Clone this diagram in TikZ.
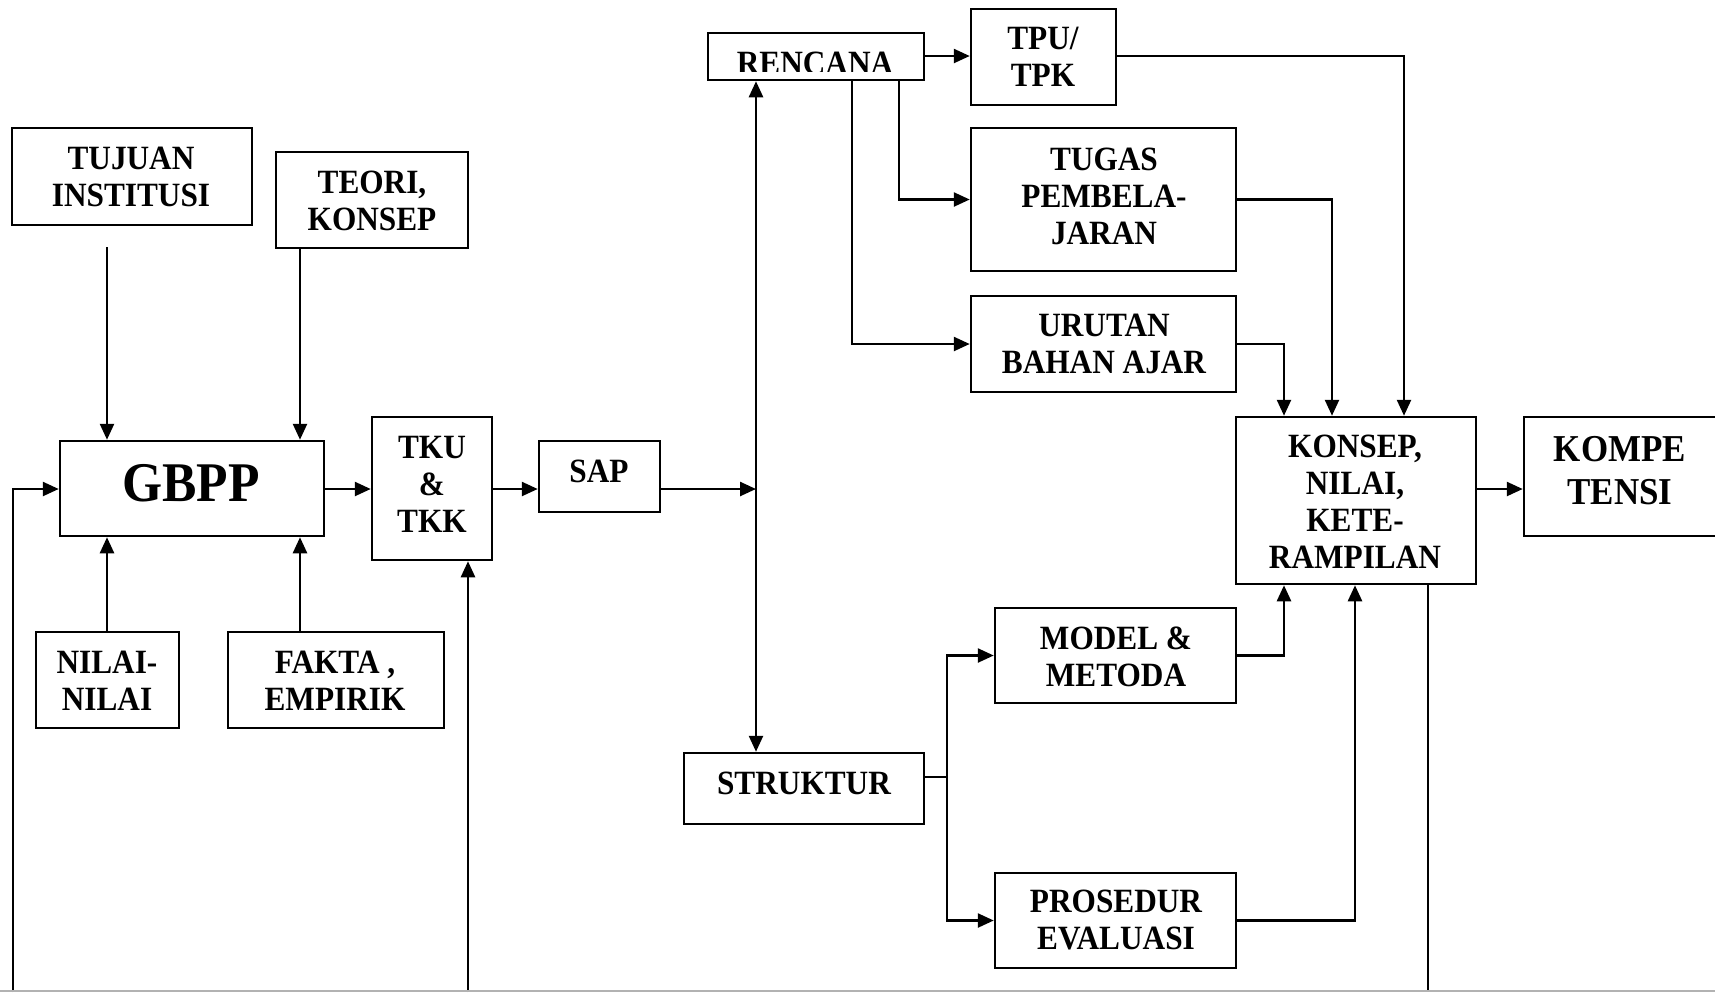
\documentclass[tikz,border=0pt]{standalone}
\usepackage{fontspec}
\setmainfont{Liberation Serif}[FakeStretch=0.92]
\usetikzlibrary{arrows.meta,fit}
\begin{document}
\begin{tikzpicture}[x=0.5pt,y=-0.5pt,
  box/.style={draw, line width=1.25pt, inner sep=0pt, fit={#1}},
  txt/.style={font=\fontsize{17}{18.5}\selectfont\bfseries, align=center, inner sep=0pt},
  ln/.style={line width=1.25pt},
  arr/.style={line width=1.25pt, -{Triangle[length=8pt,width=7pt]}},
  darr/.style={line width=1.25pt, {Triangle[length=8pt,width=7pt]}-{Triangle[length=8pt,width=7pt]}}]
\useasboundingbox (0,0) rectangle (1715,992);
\clip (0,0) rectangle (1715,992);
% boxes
\node[box={(12,128) (252,225)}] (tujuan) {};
\node[box={(276,152) (468,248)}] (teori) {};
\node[box={(60,441) (324,536)}] (gbpp) {};
\node[box={(36,632) (179,728)}] (nilai) {};
\node[box={(228,632) (444,728)}] (fakta) {};
\node[box={(372,417) (492,560)}] (tku) {};
\node[box={(539,441) (660,512)}] (sap) {};
\node[box={(708,33) (924,80)}] (rencana) {};
\node[box={(971,9) (1116,105)}] (tpu) {};
\node[box={(971,128) (1236,271)}] (tugas) {};
\node[box={(971,296) (1236,392)}] (urutan) {};
\node[box={(1236,417) (1476,584)}] (konsep) {};
\node[box={(1524,417) (1720,536)}] (komp) {};
\node[box={(995,608) (1236,703)}] (model) {};
\node[box={(684,753) (924,824)}] (struktur) {};
\node[box={(995,873) (1236,968)}] (prosedur) {};
% texts
\node[txt] (tujuan-t) at (131,177) {TUJUAN\\INSTITUSI};
\node[txt] (teori-t) at (372,201) {TEORI,\\KONSEP};
\node[txt, font=\fontsize{28}{30}\selectfont\bfseries] (gbpp-t) at (191,483) {GBPP};
\node[txt] (nilai-t) at (107,681) {NILAI-\\NILAI};
\node[txt] (fakta-t) at (335,681) {FAKTA ,\\EMPIRIK};
\node[txt] (tku-t) at (432,484) {TKU\\\&\\TKK};
\node[txt] (sap-t) at (599,471) {SAP};
\begin{scope}
  \clip (700,0) rectangle (930,71);
  \node[txt] (rencana-t) at (815,63) {RENCANA};
\end{scope}
\node[txt] (tpu-t) at (1043,57) {TPU/\\TPK};
\node[txt] (tugas-t) at (1104,196) {TUGAS\\PEMBELA-\\JARAN};
\node[txt] (urutan-t) at (1104,344) {URUTAN\\BAHAN AJAR};
\node[txt] (konsep-t) at (1355,502) {KONSEP,\\NILAI,\\KETE-\\RAMPILAN};
\node[txt, font=\fontsize{19}{21.5}\selectfont\bfseries] (komp-t) at (1620,471) {KOMPE\\TENSI};
\node[txt] (model-t) at (1116,657) {MODEL \&\\METODA};
\node[txt] (struktur-t) at (804,783) {STRUKTUR};
\node[txt] (prosedur-t) at (1116,920) {PROSEDUR\\EVALUASI};
% connectors
\coordinate (tjs) at (107,247);
\draw[arr] (tjs) -- (tjs |- gbpp.north);
\draw[arr] (teori.south -| 300,0) -- (300,0 |- gbpp.north);
\draw[arr] (nilai.north -| 107,0) -- (107,0 |- gbpp.south);
\draw[arr] (fakta.north -| 300,0) -- (300,0 |- gbpp.south);
\draw[arr] (gbpp.east |- 0,489) -- (tku.west |- 0,489);
\draw[arr] (tku.east |- 0,489) -- (sap.west |- 0,489);
\coordinate (jn) at (756,489);
\draw[arr] (sap.east |- jn) -- (jn);
\draw[darr] (rencana.south -| jn) -- (struktur.north -| jn);
\draw[arr] (rencana.east |- 0,56) -- (tpu.west |- 0,56);
\draw[arr] (rencana.south -| 899,0) |- (tugas.west);
\draw[arr] (rencana.south -| 852,0) |- (urutan.west);
\draw[arr] (tpu.east |- 0,56) -| (1404,0 |- konsep.north);
\draw[arr] (tugas.east) -| (1332,0 |- konsep.north);
\draw[arr] (urutan.east) -| (1284,0 |- konsep.north);
\draw[arr] (konsep.east |- 0,489) -- (komp.west |- 0,489);
\coordinate (sj) at (947,777);
\draw[ln] (struktur.east |- sj) -- (sj);
\draw[arr] (sj) |- (model.west);
\draw[arr] (sj) |- (prosedur.west);
\draw[arr] (model.east) -| (1284,0 |- konsep.south);
\draw[arr] (prosedur.east) -| (1355,0 |- konsep.south);
% feedback
\coordinate (fb) at (1428,992);
\draw[ln] (konsep.south -| fb) -- (fb);
\coordinate (fbt) at (468,992);
\draw[arr] (fbt) -- (fbt |- tku.south);
\coordinate (fbg) at (13,992);
\draw[arr] (fbg) |- (gbpp.west |- 0,489);
\draw[gray!60, line width=1pt] (0,991) -- (1715,991);
\end{tikzpicture}
\end{document}
